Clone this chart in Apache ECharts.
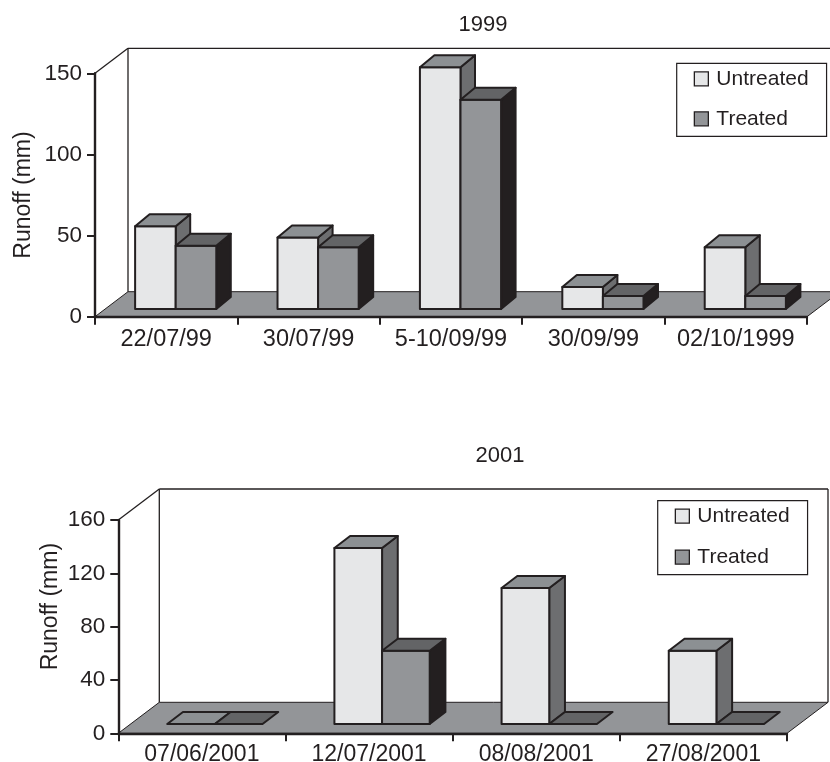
<!DOCTYPE html>
<html>
<head>
<meta charset="utf-8">
<style>html,body{margin:0;padding:0;background:#fff;overflow:hidden}#c{width:830px;height:762px}</style>
<script src="https://cdn.jsdelivr.net/npm/echarts@6/dist/echarts.min.js"></script>
</head>
<body>
<div id="c"></div>
<script>
const categories1999 = ['22/07/99', '30/07/99', '5-10/09/99', '30/09/99', '02/10/1999'];
const untreated1999 = [51, 44, 149, 13.5, 38];
const treated1999 = [39, 38, 129, 8, 8];
const yTicks1999 = { min: 0, max: 150, interval: 50 };

const categories2001 = ['07/06/2001', '12/07/2001', '08/08/2001', '27/08/2001'];
const untreated2001 = [0, 132, 102, 55];
const treated2001 = [0, 55, 0, 0];
const yTicks2001 = { min: 0, max: 160, interval: 40 };

const INK = '#231f20';
const FONT = '"Liberation Sans", Arial, sans-serif';
const UNTREATED = { front: '#e6e7e8', top: '#8c9093', side: '#6d6e70' };
const TREATED = { front: '#939598', top: '#636466', side: '#231f20' };

function poly(points, fill, lw) {
  return { type: 'polygon', shape: { points }, style: { fill, stroke: INK, lineWidth: lw === undefined ? 2 : lw, lineJoin: 'round' } };
}

// Back wall and floor, derived from the grid rectangle
function frameSeries(gridIndex, depthX, depthY, closeRight) {
  return {
    type: 'custom', name: 'frame', xAxisIndex: gridIndex, yAxisIndex: gridIndex, z: 1, silent: true, clip: false,
    data: [[0, 0]],
    encode: { x: 0, y: 1 },
    renderItem: function (params) {
      const g = params.coordSys, l = g.x, t = g.y, r = g.x + g.width, b = g.y + g.height;
      const line = (x1, y1, x2, y2) => ({ type: 'line', shape: { x1, y1, x2, y2 }, style: { stroke: INK, lineWidth: 1.3 } });
      const kids = [
        { type: 'polygon', shape: { points: [[l, b], [l + depthX, b - depthY], [r + depthX, b - depthY], [r, b]] }, style: { fill: '#939598', stroke: INK, lineWidth: 1 } },
        line(l, t, l + depthX, t - depthY),
        line(l + depthX, t - depthY, r + depthX, t - depthY),
        line(l + depthX, t - depthY, l + depthX, b - depthY)
      ];
      if (closeRight) kids.push(line(r + depthX, t - depthY, r + depthX, b - depthY));
      return { type: 'group', children: kids };
    }
  };
}

// One 3-D column per datum; slot 0 = left column, slot 1 = right column
function barSeries(name, values, gridIndex, slot, colors, geo) {
  return {
    type: 'custom', name, xAxisIndex: gridIndex, yAxisIndex: gridIndex, z: 4 + slot, clip: false,
    itemStyle: { color: colors.front, borderColor: INK },
    data: values.map((v, i) => [i, v]),
    encode: { x: 0, y: 1 },
    renderItem: function (params, api) {
      const top = api.coord([api.value(0), api.value(1)]);
      const base = api.coord([api.value(0), 0]);
      const w = api.size([1, 0])[0] * 0.285;
      const x0 = top[0] + geo.offX + (slot - 1) * w, x1 = x0 + w;
      const yT = top[1] - geo.offY, yB = base[1] - geo.offY;
      const dx = geo.barX, dy = geo.barY;
      const kids = [];
      if (yB - yT > 0.5) {
        kids.push(poly([[x1, yB], [x1 + dx, yB - dy], [x1 + dx, yT - dy], [x1, yT]], colors.side));
        kids.push(poly([[x0, yB], [x1, yB], [x1, yT], [x0, yT]], colors.front));
      }
      kids.push(poly([[x0, yT], [x0 + dx, yT - dy], [x1 + dx, yT - dy], [x1, yT]], colors.top));
      return { type: 'group', children: kids };
    }
  };
}

function xAxis(cats, gridIndex, size, margin) {
  return {
    type: 'category', gridIndex, data: cats, z: 3,
    axisTick: { show: true, alignWithLabel: false, length: 8, lineStyle: { color: INK, width: 2 } },
    axisLine: { show: true, lineStyle: { color: INK, width: 2.4 } },
    axisLabel: { color: INK, fontFamily: FONT, fontSize: size, margin, interval: 0 }
  };
}
function yAxis(ticks, gridIndex, gap, pad) {
  return {
    type: 'value', gridIndex, min: ticks.min, max: ticks.max, interval: ticks.interval, z: 3,
    name: 'Runoff (mm)', nameLocation: 'middle', nameGap: gap, nameMoveOverlap: false,
    nameTextStyle: { color: INK, fontFamily: FONT, fontSize: 23, padding: pad },
    splitLine: { show: false },
    axisTick: { show: true, length: 8, lineStyle: { color: INK, width: 2 } },
    axisLine: { show: true, lineStyle: { color: INK, width: 2.4 } },
    axisLabel: { color: INK, fontFamily: FONT, fontSize: 22.5, margin: 13 }
  };
}
function legend(left, top, gap) {
  return {
    left, top, orient: 'vertical', icon: 'rect', itemWidth: 14, itemHeight: 14, itemGap: gap, selectedMode: false,
    backgroundColor: '#fff', borderColor: INK, borderWidth: 1.2, padding: [5, 18, 7, 17],
    textStyle: { color: INK, fontFamily: FONT, fontSize: 21, padding: [0, 0, 0, 3] },
    data: [
      { name: 'Untreated', itemStyle: { color: UNTREATED.front, borderColor: INK, borderWidth: 1.3 } },
      { name: 'Treated', itemStyle: { color: TREATED.front, borderColor: INK, borderWidth: 1.3 } }
    ]
  };
}

const geo99 = { offX: 9.5, offY: 7.7, barX: 14.5, barY: 12 };
const geo01 = { offX: 13, offY: 9.3, barX: 15.7, barY: 12 };

const option = {
  animation: false,
  backgroundColor: '#fff',
  title: [
    { text: '1999', left: 478, top: 9, textAlign: 'center', textStyle: { color: INK, fontFamily: FONT, fontSize: 22, fontWeight: 'normal' } },
    { text: '2001', left: 495, top: 440, textAlign: 'center', textStyle: { color: INK, fontFamily: FONT, fontSize: 22, fontWeight: 'normal' } }
  ],
  grid: [
    { left: 95, top: 73.3, width: 712, height: 243.4, outerBoundsMode: 'none' },
    { left: 118.3, top: 520, width: 668.7, height: 213.3, outerBoundsMode: 'none' }
  ],
  xAxis: [xAxis(categories1999, 0, 23.5, 11), xAxis(categories2001, 1, 23, 10)],
  yAxis: [yAxis(yTicks1999, 0, 60, [0, 0, 0, 0]), yAxis(yTicks2001, 1, 56, [0, 0, 0, 40])],
  legend: [legend(676.7, 63.3, 19), legend(657.7, 500.7, 20)],
  series: [
    frameSeries(0, 33, 25, false),
    frameSeries(1, 41, 31, true),
    barSeries('Untreated', untreated1999, 0, 0, UNTREATED, geo99),
    barSeries('Treated', treated1999, 0, 1, TREATED, geo99),
    barSeries('Untreated', untreated2001, 1, 0, UNTREATED, geo01),
    barSeries('Treated', treated2001, 1, 1, TREATED, geo01)
  ]
};
const chart = echarts.init(document.getElementById('c'), null, { renderer: 'canvas', width: 830, height: 762 });
chart.setOption(option);
</script>
</body>
</html>
